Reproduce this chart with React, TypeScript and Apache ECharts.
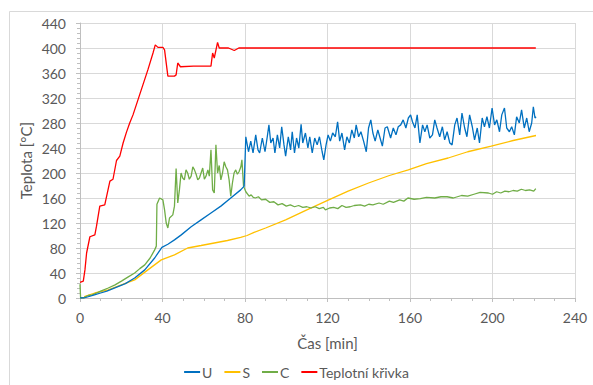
import React, { useEffect, useRef } from "react";
import * as echarts from "echarts";

// Time [min], value [°C] pairs
const seriesNames = ["U", "S", "C", "Teplotní křivka"];
const seriesColors = ["#0070C0", "#FFC000", "#70AD47", "#FF0000"];

const dataU: [number, number][] = [
  [0, 0], [2, 0], [4, 2], [7, 5], [10, 8], [13, 11], [16, 15], [19, 19], [22, 23], [26.5, 32],
  [31.4, 45], [36.2, 64], [39.7, 81], [42.6, 86], [45.8, 93], [49.1, 101], [53.9, 114], [58.7, 125],
  [63.5, 136], [68.3, 147], [73.1, 160], [77.9, 173], [79.6, 179],
  [80.4, 258], [81.7, 234], [82.8, 251], [83.9, 232], [85.2, 261], [86.3, 237], [87.1, 232], [88.4, 256],
  [89.7, 234], [90.8, 258], [91.6, 277], [92.5, 248], [93.6, 256], [94.5, 232], [95.7, 261], [96.8, 240],
  [97.8, 274], [98.9, 245], [99.7, 227], [101, 258], [102.1, 237], [102.9, 266], [104, 232], [105, 256],
  [106.1, 240], [107.2, 278], [108, 248], [109.3, 264], [110.5, 240], [111.4, 258], [112.6, 232],
  [113.8, 256], [115, 245], [116.1, 258], [117.4, 234], [118.2, 221], [119.3, 245], [120.3, 261],
  [121.4, 251], [122.5, 264], [123.8, 258], [124.9, 282], [125.9, 251], [127, 264], [128.3, 237],
  [129.4, 258], [130.6, 248], [131.8, 269], [133, 256], [133.9, 277], [135.1, 258], [136.2, 266],
  [137.5, 251], [138.8, 234], [139.9, 272], [141, 285], [142, 264], [143.1, 251], [144.4, 269],
  [145.5, 256], [146.6, 243], [147.9, 272], [149, 274], [150.6, 256], [151.9, 272], [153.2, 261],
  [154.3, 274], [155.5, 277], [156.7, 285], [158, 272], [159.2, 288], [160.3, 293], [161.2, 282],
  [162.4, 272], [163.5, 293], [164.8, 248], [166.1, 277], [167.2, 266], [168.3, 277], [169.6, 256],
  [170.9, 261], [172, 285], [173.1, 272], [174.4, 258], [175.7, 274], [176.8, 253], [178, 266],
  [179.3, 248], [180.4, 245], [181.7, 277], [182.8, 288], [184.1, 261], [185.2, 296], [186.5, 272],
  [187.6, 258], [188.9, 293], [190.2, 274], [191.3, 253], [192.6, 272], [193.7, 248], [195, 288],
  [196.1, 274], [197.3, 290], [198.5, 272], [199.8, 304], [201, 277], [202.1, 285], [203.4, 266],
  [204.5, 293], [205.8, 304], [206.9, 272], [208.2, 266], [209.3, 274], [210.6, 261], [211.7, 290],
  [213, 280], [214.1, 301], [215.4, 272], [216.6, 288], [217.8, 266], [219, 280], [219.8, 306],
  [220.6, 288], [221.1, 290],
];

const dataS: [number, number][] = [
  [0, 0], [2, 0], [2.4, 2.6], [7.2, 8], [13.7, 13], [20.1, 21], [26.5, 29], [32.9, 45], [39.4, 61],
  [45.8, 69], [52.2, 80], [58.7, 84], [65.1, 88], [71.5, 92], [77.9, 97], [81, 100], [84.4, 105],
  [90, 112], [99.7, 125], [110, 141], [120.6, 157], [130, 171], [139.9, 184], [150, 196], [159.2, 205],
  [168, 215], [178.5, 224], [188, 234], [199.4, 243], [210, 252], [221.1, 260],
];

const dataC: [number, number][] = [
  [0, 22], [0.3, 0], [2, 1], [4, 4], [6, 5], [8, 8], [10, 11], [13.7, 16], [17, 21], [20.1, 27],
  [23, 33], [26.5, 40], [29, 47], [31.4, 53], [34, 64], [36.2, 77], [37, 83], [37.3, 150], [38.6, 160],
  [40.2, 157], [41, 141], [41.8, 120], [42.6, 112], [43.4, 128], [45, 133], [45.8, 147], [46.6, 207],
  [47.4, 152], [48.2, 173], [49, 200], [49.8, 192], [50.6, 189], [51.4, 205], [52.2, 200], [53, 190],
  [53.9, 195], [54.7, 210], [55.5, 205], [56.3, 198], [57.1, 189], [57.9, 192], [58.7, 200],
  [59.5, 208], [60.3, 190], [61.1, 195], [62, 205], [62.7, 195], [63.5, 237], [64.3, 173],
  [65.1, 168], [65.9, 245], [66.7, 200], [67.5, 212], [68.3, 189], [69.1, 200], [69.9, 218],
  [70.7, 210], [71.5, 205], [72.3, 189], [73.1, 163], [73.9, 184], [74.7, 200], [75.5, 205],
  [76.3, 198], [77.1, 202], [78, 210], [78.5, 221], [79.3, 179], [80.4, 170], [82, 163], [83, 165],
  [84, 161], [85, 160], [86.5, 162], [88, 157], [90, 158], [92, 153], [94, 154], [96, 149], [98, 151],
  [100, 147], [102, 149], [104, 146], [106, 148], [108, 145], [110, 146], [112, 144], [114, 146],
  [116, 143], [118, 145], [119, 141], [121, 144], [123, 145], [125, 143], [127, 148], [129, 145],
  [131, 146], [133, 148], [136, 149], [138, 147], [140, 150], [142, 149], [145, 152], [147, 150],
  [150, 155], [152, 153], [155, 157], [157, 155], [159, 160], [162, 158], [165, 159], [168, 161],
  [172, 160], [175, 162], [178, 162], [181, 160], [185, 164], [188, 163], [191, 166], [194, 169],
  [198, 168], [200, 166], [202, 170], [204, 168], [206, 171], [208, 170], [210, 172], [212, 171],
  [214, 174], [216, 172], [218, 173], [220, 171], [221, 175],
];

const dataT: [number, number][] = [
  [0, 25], [1.6, 27], [2.4, 45], [3.2, 72], [4.8, 98], [7.2, 101], [8, 115], [9.6, 147], [12, 149],
  [14.5, 187], [16, 190], [17.7, 220], [19.3, 227], [20.9, 248], [22.5, 265], [24.1, 280], [25.7, 293],
  [28.1, 317], [30.5, 341], [32.9, 365], [35.4, 392], [36.5, 405], [37.8, 401], [40.2, 401], [41, 397],
  [42.6, 355], [45.8, 355], [46.6, 357], [47.4, 376], [48.7, 370], [55, 371], [63.5, 371], [64.3, 392],
  [65.1, 384], [66.7, 409], [67.5, 400], [72, 400], [74.8, 396], [77, 400], [100, 400], [150, 400],
  [200, 400], [221, 400],
];

const xTicks = { min: 0, max: 240, interval: 40 };
const yTicks = { min: 0, max: 440, interval: 40 };

const FONT = "Lato, 'Open Sans', sans-serif";
const TEXT = "#595959";

export default function App() {
  const ref = useRef<HTMLDivElement>(null);
  useEffect(() => {
    document.body.style.margin = "0";
    const chart = echarts.init(ref.current!, null, { renderer: "svg" });
    const datasets = [dataU, dataS, dataC, dataT];
    chart.setOption({
      animation: false,
      backgroundColor: "#ffffff",
      textStyle: { fontFamily: FONT },
      graphic: [
        {
          type: "rect",
          left: 7,
          top: 9,
          shape: { x: 0, y: 0, width: 700, height: 500 },
          style: { fill: "none", stroke: "#d9d9d9", lineWidth: 1 },
          silent: true,
          z: -10,
        },
      ],
      grid: { left: 80, right: 18, top: 23, bottom: 87, containLabel: false },
      legend: {
        bottom: 1,
        left: "center",
        itemWidth: 16,
        itemHeight: 2,
        itemGap: 12,
        icon: "rect",
        textStyle: { color: TEXT, fontSize: 14, fontFamily: FONT, padding: [0, 0, 0, -3] },
        data: seriesNames,
      },
      xAxis: {
        type: "value",
        min: xTicks.min,
        max: xTicks.max,
        interval: xTicks.interval,
        name: "Čas [min]",
        nameLocation: "middle",
        nameGap: 37,
        nameMoveOverlap: false,
        nameTextStyle: { color: TEXT, fontSize: 15, fontFamily: FONT },
        axisLine: { show: true, lineStyle: { color: "#bfbfbf", width: 1 } },
        axisTick: { show: true, length: 4, lineStyle: { color: "#bfbfbf" } },
        minorTick: { show: true, splitNumber: 4, length: 3, lineStyle: { color: "#bfbfbf" } },
        axisLabel: { color: TEXT, fontSize: 14, margin: 12, fontFamily: FONT },
        splitLine: { show: true, lineStyle: { color: "#d9d9d9", width: 1 } },
      },
      yAxis: {
        type: "value",
        min: yTicks.min,
        max: yTicks.max,
        interval: yTicks.interval,
        name: "Teplota [°C]",
        nameLocation: "middle",
        nameGap: 47,
        nameMoveOverlap: false,
        nameTextStyle: { color: TEXT, fontSize: 15, fontFamily: FONT },
        axisLine: { show: true, lineStyle: { color: "#bfbfbf", width: 1 } },
        axisTick: { show: true, length: 4, lineStyle: { color: "#bfbfbf" } },
        minorTick: { show: true, splitNumber: 5, length: 3, lineStyle: { color: "#bfbfbf" } },
        axisLabel: { color: TEXT, fontSize: 14, margin: 14, fontFamily: FONT },
        splitLine: { show: true, lineStyle: { color: "#d9d9d9", width: 1 } },
      },
      series: seriesNames.map((name, i) => ({
        name,
        type: "line",
        data: datasets[i],
        showSymbol: false,
        symbol: "none",
        color: seriesColors[i],
        lineStyle: { color: seriesColors[i], width: 1.3 },
        z: i === 0 ? 4 : 3,
      })),
    });
    return () => chart.dispose();
  }, []);
  return (
    <div
      ref={ref}
      style={{ position: "absolute", left: 0, top: 0, width: 593, height: 385 }}
    />
  );
}
